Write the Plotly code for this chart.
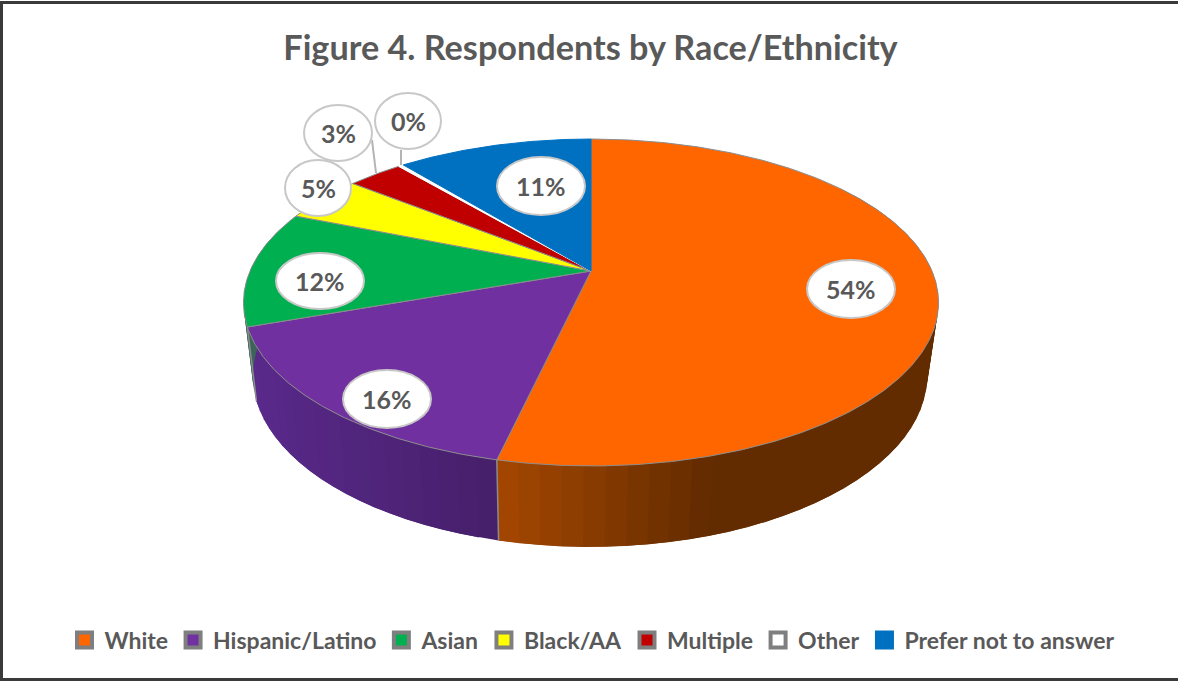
import numpy as np
import plotly.graph_objects as go

# ---- data (percent of respondents) ----
categories = ["White", "Hispanic/Latino", "Asian", "Black/AA", "Multiple", "Other", "Prefer not to answer"]
values = [53.6, 16.0, 11.5, 4.6, 3.1, 0.3, 10.9]
labels = ["54%", "16%", "12%", "5%", "3%", "0%", "11%"]
title_text = "Figure 4. Respondents by Race/Ethnicity"

# ---- styles ----
colors = ["#FF6600", "#7030A0", "#00B050", "#FFFF00", "#C00000", "#FFFFFF", "#0070C0"]
key_lines = ["#7F7F7F"] * 6 + ["#0070C0"]
wall_stops = {
    0: [(497, (168, 72, 0)), (620, (132, 58, 0)), (720, (98, 44, 0)), (940, (98, 44, 0))],
    1: [(250, (90, 42, 140)), (495, (71, 32, 108))],
    2: [(240, (60, 100, 90)), (260, (60, 100, 90))],
}
FONT = "Lato, Carlito, Calibri, sans-serif"
INK = "#595959"
EDGE = "#8C8C8C"

# ---- projection of the tilted disc onto the page ----
K = 0.1927
TOP = dict(cx=591.0, cy=271.0, a=341.0, b=157.4)
BOT = dict(cx=590.0, cy=342.6, a=331.0, b=165.0)


def project(theta, disc):
    u, v = np.sin(theta), np.cos(theta)
    w = 1 + K * v
    return disc["cx"] + disc["a"] * u / w, disc["cy"] - disc["b"] * v / w


edges = np.radians(np.concatenate([[0], np.cumsum(values)]) / sum(values) * 360)


def arc(t0, t1, step=1.0):
    n = max(2, int(np.degrees(t1 - t0) / step) + 2)
    return np.linspace(t0, t1, n)


fig = go.Figure()

# side wall: overlapping shaded strips, only the slices that face the viewer
wall_ranges = {0: (np.radians(55), edges[1]), 1: (edges[1], edges[2]), 2: (edges[2], np.radians(285))}
for idx, (t0, t1) in wall_ranges.items():
    ts = arc(t0, t1, 3.0)
    xs_stop = [s[0] for s in wall_stops[idx]]
    for j, a in enumerate(ts[:-1]):
        b = ts[min(j + 2, len(ts) - 1)]
        xa0, ya0 = project(a, TOP)
        xb0, yb0 = project(b, TOP)
        xa1, ya1 = project(a, BOT)
        xb1, yb1 = project(b, BOT)
        xm = xa0
        rgb = [np.interp(xm, xs_stop, [s[1][c] for s in wall_stops[idx]]) for c in range(3)]
        col = "rgb(%d,%d,%d)" % tuple(rgb)
        fig.add_trace(go.Scatter(
            x=[xa0, xb0, xb1, xa1, xa0], y=[ya0, yb0, yb1, ya1, ya0],
            mode="lines", fill="toself", fillcolor=col, line=dict(color=col, width=0),
            hoverinfo="skip", showlegend=False))

# seams on the wall
for t in edges[1:3]:
    x0, y0 = project(t, TOP)
    x1, y1 = project(t, BOT)
    fig.add_trace(go.Scatter(x=[x0, x1], y=[y0, y1], mode="lines",
                             line=dict(color=EDGE, width=1.5), hoverinfo="skip", showlegend=False))

# top face
for i, name in enumerate(categories):
    ts = arc(edges[i], edges[i + 1], 0.5)
    x, y = project(ts, TOP)
    line_col = colors[i] if name in ("Other", "Prefer not to answer") else EDGE
    fig.add_trace(go.Scatter(
        x=np.r_[TOP["cx"], x, TOP["cx"]], y=np.r_[TOP["cy"], y, TOP["cy"]],
        mode="lines", fill="toself", fillcolor=colors[i],
        line=dict(color=line_col, width=1), name=name, legendgroup=name,
        showlegend=False, hovertemplate=f"{name}: {values[i]}%<extra></extra>"))

# legend keys
for i, name in enumerate(categories):
    fig.add_trace(go.Scatter(
        x=[None], y=[None], mode="markers", name=name, legendgroup=name,
        marker=dict(symbol="square", size=15, color=colors[i], line=dict(color=key_lines[i], width=4))))

# data-label bubbles
LABEL_XY = [(851, 289, 44, 29), (387, 399, 44, 29), (320, 281, 44, 28), (318, 188, 33, 28),
            (338, 133, 34, 28), (408, 121, 33, 28), (541, 186, 44, 29)]
LEADERS = [((372, 140), (376, 173)), ((401, 150), (401, 165))]
shapes = []
for (p0, p1) in LEADERS:
    shapes.append(dict(type="line", xref="x", yref="y", x0=p0[0], y0=p0[1], x1=p1[0], y1=p1[1],
                       line=dict(color="#B4B4B4", width=2)))
for (cx, cy, rx, ry) in LABEL_XY:
    shapes.append(dict(type="circle", xref="x", yref="y", x0=cx - rx, x1=cx + rx, y0=cy - ry, y1=cy + ry,
                       fillcolor="#FFFFFF", line=dict(color="#C8C8C8", width=2)))
# outer frame: left, top and bottom edges only
for (x0, y0, x1, y1) in [(1.5, 1, 1.5, 681), (0, 2.5, 1178, 2.5), (0, 679.5, 1178, 679.5)]:
    shapes.append(dict(type="line", xref="x", yref="y", x0=x0, y0=y0, x1=x1, y1=y1,
                       line=dict(color="#3A3A3A", width=3)))

annotations = [dict(x=c[0], y=c[1], xref="x", yref="y", text=t, showarrow=False,
                    font=dict(family=FONT, size=25, color=INK, weight="bold"))
               for c, t in zip(LABEL_XY, labels)]

fig.update_layout(
    width=1178, height=681, margin=dict(l=0, r=0, t=0, b=0),
    paper_bgcolor="#FFFFFF", plot_bgcolor="#FFFFFF",
    xaxis=dict(range=[0, 1178], visible=False, fixedrange=True),
    yaxis=dict(range=[681, 0], visible=False, fixedrange=True),
    title=dict(text=title_text, x=590.5 / 1178, xanchor="center", y=1 - 48 / 681, yanchor="middle",
               font=dict(family=FONT, size=34.2, color=INK, weight="bold")),
    legend=dict(orientation="h", x=592 / 1178, xanchor="center", y=1 - 640 / 681, yanchor="middle",
                font=dict(family=FONT, size=23, color=INK, weight="bold"),
                itemwidth=30, traceorder="normal", bgcolor="rgba(0,0,0,0)", itemclick=False, itemdoubleclick=False),
    shapes=shapes, annotations=annotations,
)
fig.write_html("out.html", config={"displayModeBar": False},
               post_script="document.body.style.margin='0';document.documentElement.style.overflow='hidden';")
